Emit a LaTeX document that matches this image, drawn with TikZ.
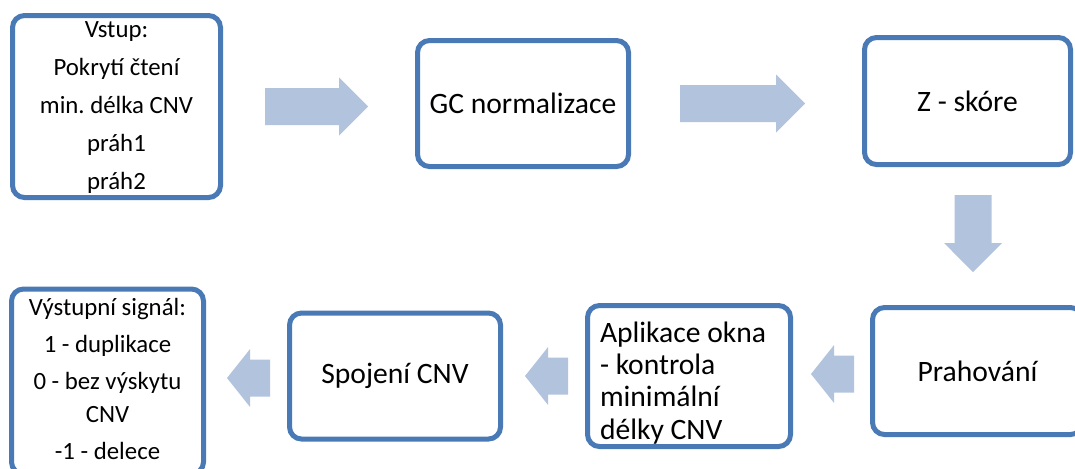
\documentclass[tikz,border=0pt]{standalone}
\usepackage{fontspec}
\setmainfont{Carlito}
\usetikzlibrary{positioning,shapes.arrows}
\definecolor{boxblue}{RGB}{74,122,181}
\definecolor{arrowblue}{RGB}{178,195,222}
\frenchspacing

\begin{document}
\begin{tikzpicture}[font=\fontsize{14.8pt}{17.75pt}\selectfont, line width=2.5pt]
\tikzstyle{stage}=[draw=boxblue, rounded corners=6pt, inner sep=0pt, align=center, fill=white]
\tikzstyle{smalltext}=[font=\fontsize{12.4pt}{19pt}\selectfont]
\tikzstyle{flow}=[single arrow, fill=arrowblue, draw=none, outer sep=0pt, inner xsep=0pt, inner ysep=8pt,
  minimum width=0pt, single arrow head extend=5.25pt, single arrow head indent=0pt]
\tikzstyle{shortflow}=[flow, minimum height=21.5pt, single arrow tip angle=103, shape border rotate=180]
\useasboundingbox (0,0) rectangle (537.5pt,-234pt);

% top row
\node[stage, smalltext, minimum width=104pt, minimum height=91pt, text height=86.75pt, text depth=4.25pt]
  (vstup) at (58.25pt,-53.25pt)
  {Vstup:\\ Pokrytí čtení\\ min. délka CNV\\ práh1\\ práh2};
\node[stage, minimum width=105.5pt, minimum height=63pt] (gc) [right=96pt of vstup, yshift=1.5pt] {GC normalizace};
\node[stage, minimum width=103pt, minimum height=63.5pt] (zskore) [right=115.5pt of gc, yshift=1.25pt] {Z - skóre};

% bottom row
\node[stage, minimum width=105pt, minimum height=63.5pt] (prah) [below=69pt of zskore, xshift=5pt] {Prahování};
\node[stage, minimum width=101.5pt, minimum height=70.5pt, align=flush left, text width=89pt,
  font=\fontsize{14.8pt}{16.2pt}\selectfont, text height=18.25pt, text depth=52.25pt]
  (okno) [left=38.5pt of prah, yshift=-2.5pt]
  {Aplikace okna\\- kontrola\\minimální\\délky CNV};
\node[stage, minimum width=105.5pt, minimum height=63pt] (spojeni) [left=41pt of okno] {Spojení CNV};
\node[stage, smalltext, font=\fontsize{12.4pt}{16.5pt}\selectfont, minimum width=96pt, minimum height=92.5pt,
  text height=85.25pt, text depth=7.25pt]
  (vystup) [left=40.5pt of spojeni, yshift=-2.75pt]
  {Výstupní signál:\\[2pt] 1 - duplikace\\[2pt] 0 - bez výskytu\\CNV\\[2pt] -1 - delece};

% block arrows
\node[flow, minimum height=51.5pt] (a1) [right=21pt of vstup] {};
\node[flow, minimum height=62.5pt] (a2) [right=24.5pt of gc] {};
\node[flow, minimum height=38.5pt, shape border rotate=270, inner xsep=8pt, inner ysep=0pt]
  (a3) [below=14pt of zskore, xshift=2.75pt] {};
\node[shortflow] (a4) [left=8pt of prah, yshift=-1.5pt] {};
\node[shortflow] (a5) [left=8.5pt of okno] {};
\node[shortflow] (a6) [left=8.5pt of spojeni, yshift=-1pt] {};
\end{tikzpicture}
\end{document}
